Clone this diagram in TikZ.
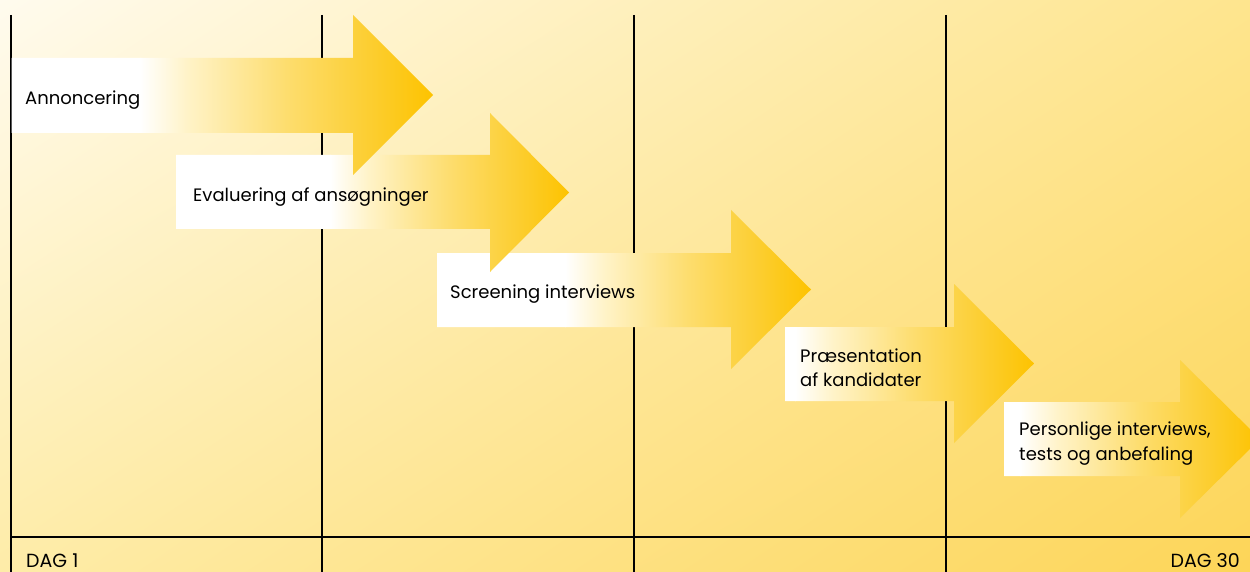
\documentclass[tikz,border=0pt]{standalone}
\usepackage{fontspec}
\setmainfont{Poppins}
\usetikzlibrary{shadings}
\definecolor{bgUL}{RGB}{255,251,238}
\definecolor{bgUR}{RGB}{254,229,142}
\definecolor{bgLL}{RGB}{254,236,168}
\definecolor{bgLR}{RGB}{253,213,88}
\definecolor{ay}{RGB}{253,195,0}
\definecolor{yA}{RGB}{255,243,200}
\definecolor{yB}{RGB}{253,221,110}
\definecolor{yC}{RGB}{252,205,45}
\pgfdeclarehorizontalshading{arrowshade}{100bp}{color(0bp)=(white); color(25bp)=(white); color(33bp)=(yA); color(50bp)=(yB); color(65bp)=(yC); color(75bp)=(ay); color(100bp)=(ay)}
\newcommand\yarrow[8]{%
  \begin{scope}
    \clip (#1,#2) -- (#4,#2) -- (#4,#5) -- (#7,{(#5+#6)/2}) -- (#4,#6) -- (#4,#3) -- (#1,#3) -- cycle;
    \shade[shading=arrowshade] (#8,#5) rectangle (#7,#6);
    \fill[white] (#1-1,#2-1) rectangle (#8+0.5,#3+1);
  \end{scope}}
\tikzset{
  lbl/.style={anchor=base west, inner sep=0pt, font=\fontsize{18}{22}\selectfont},
  daglbl/.style={lbl, font=\fontsize{19}{22}\selectfont},
  grid/.style={line width=1.1pt, black}
}
\begin{document}
\begin{tikzpicture}[x=1pt, y=-1pt]
\useasboundingbox (0,0) rectangle (1250,572);
\clip (0,0) rectangle (1250,572);
\shade[upper left=bgUL, upper right=bgUR, lower left=bgLL, lower right=bgLR] (0,0) rectangle (1250,572);
\foreach \x in {11,322,634,946} \draw[grid] (\x,15) -- (\x,573);
\draw[grid] (11,537) -- (1251,537);
% arrows: L, T, B, X, HT, HB, P, W
\yarrow{1004}{402}{476}{1180}{360}{518}{1260}{1020}
\yarrow{785}{327}{401}{954}{284}{443}{1034}{795}
\yarrow{437}{253}{327}{731}{210}{369}{811}{565}
\yarrow{176}{155}{229}{490}{113}{272}{569}{330}
\yarrow{11.5}{58}{133}{353}{15}{175}{433}{140}
\node[lbl] (t1) at (25,105) {Annoncering};
\node[lbl] (t2) at (193,202) {Evaluering af ansøgninger};
\node[lbl] (t3) at (450,298) {Screening interviews};
\node[lbl] (t4a) at (800,362) {Præsentation};
\node[lbl] (t4b) at (800,386) {af kandidater};
\node[lbl] (t5a) at (1019,435) {Personlige interviews,};
\node[lbl] (t5b) at (1019,460) {tests og anbefaling};
\node[daglbl] (d1) at (26,567) {DAG 1};
\node[daglbl, anchor=base east] (d30) at (1240,567) {DAG 30};
\end{tikzpicture}
\end{document}
